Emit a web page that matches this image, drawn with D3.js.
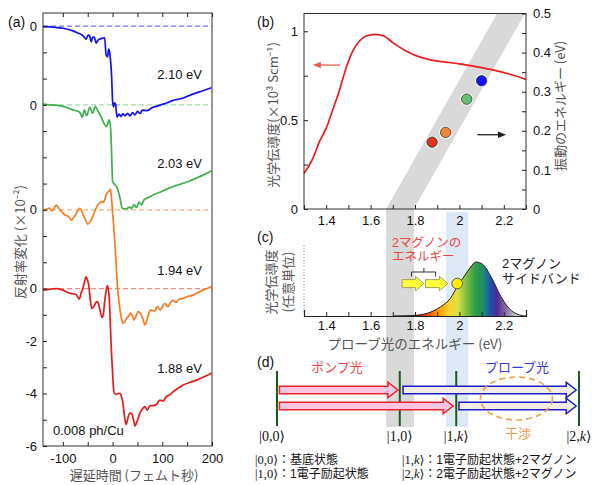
<!DOCTYPE html>
<html><head><meta charset="utf-8">
<script src="https://cdn.jsdelivr.net/npm/d3@7/dist/d3.min.js"></script>
<style>
html,body{margin:0;padding:0;background:#fff;}
svg{display:block;}
</style></head>
<body>
<svg id="chart" width="600" height="485" viewBox="0 0 600 485"></svg>
<script>
// ================= DATA =================
// Panel (a): delay-time traces (fs, ΔR relative to own baseline, x10^-2)
const delayTicks = [-100, -50, 0, 50, 100, 150, 200];
const delayTickLabels = [-100, 0, 100, 200];
const reflTicks = [-6,-5,-4,-3,-2,-1,0,1,2,3,4,5,6,7,8,9,10];
const reflLabelValues = [-6, -4, -2, 0, 3, 7, 10];
const reflLabelTexts = ["-6", "-4", "-2", "0", "0", "0", "0"];
const traceLabels = ["2.10 eV", "2.03 eV", "1.94 eV", "1.88 eV"];
const traceOffsets = [10, 7, 3, 0];

const trace210 = [[-140,-0.02],[-125,-0.03],[-110,-0.06],[-100,-0.08],[-90,-0.12],[-80,-0.18],[-70,-0.26],[-62,-0.33],[-57,-0.42],[-53,-0.5],[-50,-0.36],[-47,-0.34],[-43,-0.6],[-40,-0.42],[-37,-0.42],[-33,-0.65],[-30,-0.55],[-27,-0.5],[-22,-0.47],[-16,-0.45],[-13,-1.1],[-10,-1.17],[-8,-0.88],[-6,-1.0],[-4.5,-1.23],[-2,-1.9],[0,-2.85],[2,-3.08],[4,-2.92],[6,-2.98],[9,-3.47],[13,-3.35],[17,-3.44],[21,-3.33],[25,-3.42],[30,-3.32],[35,-3.42],[40,-3.3],[45,-3.38],[50,-3.25],[55,-3.33],[60,-3.2],[70,-3.22],[80,-3.1],[90,-3.05],[100,-2.98],[110,-2.92],[120,-2.84],[141,-2.75],[160,-2.6],[180,-2.47],[199,-2.35]];
const trace203 = [[-140,0.03],[-125,0.0],[-106,-0.03],[-92,-0.1],[-80,-0.19],[-66,-0.28],[-61,-0.48],[-57,-0.19],[-52,-0.41],[-46,-0.1],[-40,-0.32],[-35,-0.06],[-29,-0.25],[-24,-0.42],[-19,-0.64],[-12,-0.83],[-7,-0.57],[-4,-0.89],[-2,-1.8],[0,-2.92],[5,-3.05],[9.5,-3.17],[15,-3.56],[19.5,-3.94],[28,-3.96],[34,-3.9],[38,-3.94],[43,-3.81],[48.5,-3.91],[53,-3.71],[58.5,-3.81],[63,-3.62],[68.5,-3.56],[75,-3.5],[82,-3.43],[95,-3.33],[108,-3.22],[122,-3.11],[140,-3.0],[155,-2.9],[170,-2.78],[185,-2.65],[199,-2.52]];
const trace194 = [[-140,-0.01],[-133,0.02],[-128,0.07],[-122,-0.04],[-118,0.05],[-113,0.18],[-108,0.05],[-102,-0.08],[-96,-0.2],[-89,-0.25],[-83,-0.39],[-78,-0.28],[-73,-0.13],[-66,0.06],[-62,-0.05],[-59,-0.2],[-55,-0.35],[-50,-0.55],[-45,-0.45],[-40,-0.26],[-35,-0.02],[-30,0.18],[-26,0.26],[-23,0.31],[-19,0.28],[-16,0.37],[-13,0.56],[-9,0.69],[-6,0.72],[-4,0.79],[-2,0.4],[0,-0.1],[2.5,-0.7],[5,-1.4],[7.5,-2.2],[10,-2.95],[12.5,-3.45],[15,-3.82],[18,-4.15],[21.5,-4.33],[25,-4.25],[28,-4.12],[31.5,-4.07],[36,-3.94],[40,-4.05],[43,-4.2],[47,-4.05],[51.5,-3.88],[56,-3.95],[61,-4.15],[65,-4.39],[70,-4.14],[76,-3.82],[81,-3.84],[85,-3.86],[89.6,-3.69],[96,-3.82],[100,-3.7],[105,-3.56],[111,-3.69],[116,-3.55],[122,-3.44],[127,-3.53],[133,-3.42],[142,-3.37],[152,-3.3],[162,-3.25],[172,-3.15],[182,-3.06],[190,-3.0],[199,-2.93]];
const trace188 = [[-140,-0.06],[-126,-0.02],[-113,0.0],[-100,-0.06],[-86,-0.18],[-74,-0.22],[-67,-0.4],[-63,-0.15],[-60,0.0],[-56,0.3],[-53.5,0.45],[-51,0.35],[-48,0.13],[-45,-0.4],[-42,-0.76],[-38.5,-0.7],[-35.4,-0.6],[-33,-0.52],[-30.8,-0.5],[-28,-0.6],[-25.4,-0.82],[-20.7,-1.11],[-18,-0.9],[-16,-0.5],[-13,-0.1],[-10.7,0.11],[-8.5,-0.05],[-6.7,-0.37],[-5,-1.1],[-3.2,-2.03],[-1.5,-2.7],[0.2,-3.3],[1.5,-3.7],[2.8,-3.96],[5.5,-4.02],[8.2,-4.03],[11,-4.0],[15,-3.99],[17.5,-4.1],[20.3,-4.31],[23.5,-4.8],[27,-5.18],[29.5,-5.05],[31.6,-4.88],[35,-4.75],[38.4,-4.76],[42,-5.0],[45,-5.23],[48,-5.12],[51.7,-4.92],[55,-4.75],[58.5,-4.63],[65,-4.5],[70,-4.63],[75,-4.46],[82,-4.46],[88.5,-4.41],[95,-4.25],[101.6,-4.29],[108,-4.12],[115,-4.05],[122,-3.93],[132,-3.8],[142,-3.68],[155,-3.58],[169,-3.49],[184,-3.36],[199,-3.23]];

// Panel (b): optical conductivity spectrum and oscillation energies
const condEnergy = [1.30,1.34,1.37,1.40,1.43,1.46,1.49,1.52,1.55,1.58,1.62,1.66,1.70,1.76,1.81,1.86,1.92,2.00,2.08,2.16,2.22,2.30];
const condValue  = [0.20,0.285,0.38,0.455,0.56,0.67,0.795,0.89,0.945,0.973,0.983,0.973,0.936,0.889,0.86,0.842,0.829,0.817,0.80,0.78,0.761,0.729];
const probeEnergy = [1.877, 1.938, 2.033, 2.10];
const oscEnergy   = [0.171, 0.196, 0.281, 0.328];
const dotColors   = ["#e2311f", "#f28636", "#67c070", "#1414f0"];
const twoMagnonBand = [1.67, 1.795];     // probe energy where oscillation energy -> 0
const sidebandWindow = [1.94, 2.04];
const energyTicks = [1.3,1.4,1.5,1.6,1.7,1.8,1.9,2.0,2.1,2.2,2.3];
const energyLabelValues = [1.4, 1.6, 1.8, 2.0, 2.2];
const energyLabelTexts = ["1.4", "1.6", "1.8", "2", "2.2"];
const condTicks = [0, 0.25, 0.5, 0.75, 1.0];
const condLabelValues = [0, 0.5, 1.0];
const condLabelTexts = ["0", "0.5", "1"];
const oscTicks = [0,0.05,0.1,0.15,0.2,0.25,0.3,0.35,0.4,0.45,0.5];
const oscLabelValues = [0,0.1,0.2,0.3,0.4,0.5];
const oscLabelTexts = ["0","0.1","0.2","0.3","0.4","0.5"];

// Panel (c): sideband spectrum (arb. units)
const specEnergy = [1.70,1.75,1.80,1.855,1.915,1.96,1.99,2.021,2.051,2.074,2.104,2.142,2.187,2.224,2.27,2.30];
const specValue  = [0,0.003,0.012,0.05,0.17,0.33,0.54,0.73,0.91,1.0,0.96,0.73,0.36,0.14,0.02,0.0];
const magnonArrows = [[1.742, 1.840], [1.847, 1.948]];
const sidebandPoint = [1.99, 0.6];
const rainbowStops = [[1.80,"#c00000"],[1.85,"#f04000"],[1.90,"#ff9000"],[1.95,"#f8d030"],[1.99,"#e0e040"],[2.03,"#80c040"],[2.07,"#30a048"],[2.11,"#208870"],[2.14,"#2050b0"],[2.17,"#502890"],[2.21,"#8a70a0"],[2.25,"#c0c0c8"],[2.29,"#e0e0e0"]];

// Panel (d): level scheme
const levelPos = [0, 1, 1.46, 2.46];
const levelNames = [["0","0"],["1","0"],["1","k"],["2","k"]];
const pumpArrows = [[0.02, 0.985], [0.02, 1.435]];
const probeArrows = [[1.027, 2.437], [1.482, 2.437]];
const legendLeft = [[["0","0"], "：基底状態"], [["1","0"], "：1電子励起状態"]];
const legendRight = [[["1","k"], "：1電子励起状態+2マグノン"], [["2","k"], "：2電子励起状態+2マグノン"]];

// ================= DRAWING =================
const LAT = '"Liberation Sans", Arial, Helvetica, sans-serif';
const JP = '"Noto Sans CJK JP", "Noto Sans", sans-serif';
const LATJP = '"Liberation Sans", "Noto Sans CJK JP", sans-serif';
const MATH = '"Liberation Serif", "DejaVu Serif", "Noto Sans CJK JP", serif';
const svg = d3.select("#chart");

const xA = d3.scaleLinear([-140, 200], [43, 212]);
const yA = d3.scaleLinear([-6, 10.5], [446, 13]);
const xE = d3.scaleLinear([1.3, 2.3], [304, 526]);
const yBL = d3.scaleLinear([0, 1.1], [209, 13.5]);
const yBR = d3.scaleLinear([0, 0.5], [209, 13.5]);
const yC = d3.scaleLinear([0, 1], [316, 262]);
const xD = d3.scaleLinear([0, 2.46], [277, 579]);

const near = (a, b) => Math.abs(a - b) < 1e-6;
function labeler(vals, texts) { return d => { const k = vals.findIndex(v => near(v, d)); return k >= 0 ? texts[k] : ""; }; }
function styleAxis(g, size) {
  g.attr("font-family", LAT).attr("font-size", size);
  g.selectAll("line").attr("stroke", "#222");
  g.selectAll("path").attr("stroke", "#222");
  g.selectAll("text").attr("fill", "#111");
}
function blockArrow(x0, x1, yc, bh, hh, hl) {
  const xb = x1 - hl;
  return `M${x0},${yc - bh / 2}H${xb}V${yc - hh / 2}L${x1},${yc}L${xb},${yc + hh / 2}V${yc + bh / 2}H${x0}Z`;
}
function jpText(g, x, y, str, size, color, anchor, rotate) {
  const t = g.append("text").attr("font-family", JP).attr("font-size", size).attr("fill", color)
    .attr("text-anchor", anchor || "start").text(str);
  if (rotate) t.attr("transform", `translate(${x},${y}) rotate(${rotate})`).attr("dominant-baseline", "central");
  else t.attr("x", x).attr("y", y);
  return t;
}
function jpLine(g, x, y, str, size, color) {
  return g.append("text").attr("x", x).attr("y", y).attr("font-family", LATJP).attr("font-size", size).attr("fill", color).text(str);
}

// ---- background bands ----
const bandBottom = 427, blueTop = 212;
const gBand = svg.append("g");
const bL = twoMagnonBand[0], bR = twoMagnonBand[1];
gBand.append("path")
  .attr("d", `M${xE(bL)},${bandBottom}L${xE(bL)},${yBR(0)}L${xE(bL + 0.5)},${yBR(0.5)}L${xE(bR + 0.5)},${yBR(0.5)}L${xE(bR)},${yBR(0)}L${xE(bR)},${bandBottom}Z`)
  .attr("fill", "#d9d9d9");
gBand.append("rect").attr("x", xE(sidebandWindow[0])).attr("y", blueTop)
  .attr("width", xE(sidebandWindow[1]) - xE(sidebandWindow[0])).attr("height", bandBottom - blueTop)
  .attr("fill", "#dde9f6");

// ---- Panel (a) ----
const traceColors = ["#1212f2", "#3cb04a", "#f57c20", "#e51b1b"];
const zeroColors = ["#7373ff", "#a3dca6", "#f9b27e", "#f28a8a"];
const gA = svg.append("g");
traceOffsets.forEach((o, i) => {
  gA.append("line").attr("x1", xA(-140)).attr("x2", xA(200)).attr("y1", yA(o)).attr("y2", yA(o))
    .attr("stroke", zeroColors[i]).attr("stroke-width", 1.2).attr("stroke-dasharray", "5,3");
});
const traces = [trace210, trace203, trace194, trace188];
const lineA = d3.line().x(d => xA(d[0])).y(d => yA(d[1])).curve(d3.curveMonotoneX);
traces.forEach((tr, i) => {
  gA.append("path").datum(tr.map(d => [d[0], d[1] + traceOffsets[i]])).attr("d", lineA)
    .attr("fill", "none").attr("stroke", traceColors[i]).attr("stroke-width", 1.7).attr("stroke-linejoin", "round");
});
gA.append("rect").attr("x", xA(-140)).attr("y", yA(10.5)).attr("width", xA(200) - xA(-140)).attr("height", yA(-6) - yA(10.5))
  .attr("fill", "none").attr("stroke", "#333");
const axAL = gA.append("g").attr("transform", `translate(${xA(-140)},0)`)
  .call(d3.axisLeft(yA).tickValues(reflTicks).tickSizeInner(-4).tickSizeOuter(0).tickPadding(6).tickFormat(labeler(reflLabelValues, reflLabelTexts)));
axAL.select(".domain").remove(); styleAxis(axAL, 13);
const axAB = gA.append("g").attr("transform", `translate(0,${yA(-6)})`)
  .call(d3.axisBottom(xA).tickValues(delayTicks).tickSizeInner(-4).tickSizeOuter(0).tickPadding(8).tickFormat(d => delayTickLabels.includes(d) ? String(d) : ""));
axAB.select(".domain").remove(); styleAxis(axAB, 13);
const axAT = gA.append("g").attr("transform", `translate(0,${yA(10.5)})`)
  .call(d3.axisTop(xA).tickValues(delayTicks).tickSizeInner(-4).tickSizeOuter(0).tickFormat(""));
axAT.select(".domain").remove(); styleAxis(axAT, 13);
const labelY = [yA(8.0), yA(4.6), yA(0.5), yA(-3.2)];
traceLabels.forEach((s, i) => {
  gA.append("text").attr("x", 202).attr("y", labelY[i]).attr("text-anchor", "end")
    .attr("font-family", LAT).attr("font-size", 13).attr("fill", "#111").text(s);
});
gA.append("text").attr("x", 53).attr("y", 435).attr("font-family", LAT).attr("font-size", 13).attr("fill", "#111").text("0.008 ph/Cu");
gA.append("text").attr("x", 8).attr("y", 27).attr("font-family", LAT).attr("font-size", 14).attr("fill", "#111").text("(a)");
jpText(gA, 134, 480, "遅延時間 (フェムト秒)", 13, "#555", "middle");
jpText(gA, 19, 242, "反射率変化 (×10⁻²)", 13, "#555", "middle", -90);

// ---- Panel (b) ----
const gB = svg.append("g");
const lineB = d3.line().x((d, i) => xE(condEnergy[i])).y(d => yBL(d)).curve(d3.curveMonotoneX);
gB.append("path").datum(condValue).attr("d", lineB).attr("fill", "none").attr("stroke", "#ee1b1b").attr("stroke-width", 1.7);
probeEnergy.forEach((e, i) => {
  gB.append("circle").attr("cx", xE(e)).attr("cy", yBR(oscEnergy[i])).attr("r", 6.4).attr("fill", "#fff");
  gB.append("circle").attr("cx", xE(e)).attr("cy", yBR(oscEnergy[i])).attr("r", 5.2).attr("fill", dotColors[i]).attr("stroke", "#333").attr("stroke-width", 0.8);
});
gB.append("rect").attr("x", xE(1.3)).attr("y", yBL(1.1)).attr("width", xE(2.3) - xE(1.3)).attr("height", yBL(0) - yBL(1.1))
  .attr("fill", "none").attr("stroke", "#333");
const axBL = gB.append("g").attr("transform", `translate(${xE(1.3)},0)`)
  .call(d3.axisLeft(yBL).tickValues(condTicks).tickSizeInner(-4).tickSizeOuter(0).tickPadding(6).tickFormat(labeler(condLabelValues, condLabelTexts)));
axBL.select(".domain").remove(); styleAxis(axBL, 13);
const axBR = gB.append("g").attr("transform", `translate(${xE(2.3)},0)`)
  .call(d3.axisRight(yBR).tickValues(oscTicks).tickSizeInner(-4).tickSizeOuter(0).tickPadding(7).tickFormat(labeler(oscLabelValues, oscLabelTexts)));
axBR.select(".domain").remove(); styleAxis(axBR, 13);
const axBB = gB.append("g").attr("transform", `translate(0,${yBL(0)})`)
  .call(d3.axisBottom(xE).tickValues(energyTicks).tickSizeInner(-4).tickSizeOuter(0).tickPadding(7).tickFormat(labeler(energyLabelValues, energyLabelTexts)));
axBB.select(".domain").remove(); styleAxis(axBB, 13);
function lineArrow(g, x0, x1, y, color) {
  const dir = Math.sign(x1 - x0);
  g.append("line").attr("x1", x0).attr("x2", x1 - dir * 6).attr("y1", y).attr("y2", y).attr("stroke", color).attr("stroke-width", 1.3);
  g.append("path").attr("d", `M${x1},${y}L${x1 - dir * 8},${y - 3.2}L${x1 - dir * 8},${y + 3.2}Z`).attr("fill", color);
}
lineArrow(gB, xE(1.463), xE(1.34), yBL(0.81), "#f25a5a");
lineArrow(gB, xE(2.081), xE(2.21), yBR(0.19), "#222");
gB.append("text").attr("x", 257).attr("y", 27).attr("font-family", LAT).attr("font-size", 14).attr("fill", "#111").text("(b)");
jpText(gB, 272, 115, "光学伝導度(×10³ Scm⁻¹)", 13, "#555", "middle", -90);
jpText(gB, 559, 106, "振動のエネルギー (eV)", 13, "#555", "middle", -90);

// ---- Panel (c) ----
const gC = svg.append("g");
const defs = svg.append("defs");
const grad = defs.append("linearGradient").attr("id", "rainbow").attr("gradientUnits", "userSpaceOnUse")
  .attr("x1", xE(rainbowStops[0][0])).attr("x2", xE(rainbowStops[rainbowStops.length - 1][0])).attr("y1", 0).attr("y2", 0);
const s0 = rainbowStops[0][0], s1 = rainbowStops[rainbowStops.length - 1][0];
rainbowStops.forEach(s => grad.append("stop").attr("offset", (s[0] - s0) / (s1 - s0)).attr("stop-color", s[1]));
const areaC = d3.area().x((d, i) => xE(specEnergy[i])).y0(yC(0)).y1(d => yC(d)).curve(d3.curveMonotoneX);
const lineC = d3.line().x((d, i) => xE(specEnergy[i])).y(d => yC(d)).curve(d3.curveMonotoneX);
gC.append("path").datum(specValue).attr("d", areaC).attr("fill", "url(#rainbow)");
gC.append("path").datum(specValue).attr("d", lineC).attr("fill", "none").attr("stroke", "#222").attr("stroke-width", 1);
gC.append("line").attr("x1", xE(1.3)).attr("x2", xE(1.3)).attr("y1", 245).attr("y2", 312)
  .attr("stroke", "#888").attr("stroke-width", 1).attr("stroke-dasharray", "1,2");
const axC = gC.append("g").attr("transform", `translate(0,${yC(0)})`)
  .call(d3.axisBottom(xE).tickValues(energyTicks).tickSizeInner(-4).tickSizeOuter(-6).tickPadding(5).tickFormat(labeler(energyLabelValues, energyLabelTexts)));
styleAxis(axC, 13); axC.select(".domain").attr("stroke-width", 1.2);
const arrowY = yC(sidebandPoint[1]);
magnonArrows.forEach(a => {
  gC.append("path").attr("d", blockArrow(xE(a[0]), xE(a[1]), arrowY, 8, 14.5, 8.5))
    .attr("fill", "#ffff3c").attr("stroke", "#a3a352").attr("stroke-width", 1);
});
gC.append("circle").attr("cx", xE(sidebandPoint[0])).attr("cy", yC(sidebandPoint[1])).attr("r", 5.3)
  .attr("fill", "#fff000").attr("stroke", "#555").attr("stroke-width", 1);
const brL = xE(1.784), brR = xE(1.893), brM = xE(1.84);
gC.append("path").attr("d", `M${brL},276.5V272H${brR}V276.5M${brM},272V268`).attr("fill", "none").attr("stroke", "#333").attr("stroke-width", 1);
gC.append("text").attr("x", 257).attr("y", 242).attr("font-family", LAT).attr("font-size", 14).attr("fill", "#111").text("(c)");
jpLine(gC, 392, 246.5, "2マグノンの", 12.5, "#ee4444");
jpLine(gC, 392, 261, "エネルギー", 12.5, "#ee4444");
jpLine(gC, 502, 267.5, "2マグノン", 13, "#222");
jpLine(gC, 502, 283, "サイドバンド", 13, "#222");
const ylC = gC.append("text").attr("transform", `translate(270,282) rotate(-90)`).attr("font-family", JP).attr("font-size", 13)
  .attr("fill", "#555").attr("text-anchor", "middle").attr("dominant-baseline", "central");
ylC.append("tspan").attr("x", 0).attr("dy", 0).text("光学伝導度");
ylC.append("tspan").attr("x", 0).attr("dy", 17).text("(任意単位)");
jpText(gC, 415, 349, "プローブ光のエネルギー (eV)", 13.5, "#555", "middle");

// ---- Panel (d) ----
const gD = svg.append("g");
levelPos.forEach(p => {
  gD.append("line").attr("x1", xD(p)).attr("x2", xD(p)).attr("y1", 371).attr("y2", 426).attr("stroke", "#1e5a1e").attr("stroke-width", 2);
});
const rowY = [390, 406];
pumpArrows.forEach((a, i) => {
  gD.append("path").attr("d", blockArrow(xD(a[0]), xD(a[1]), rowY[i], 7.5, 15.5, 10))
    .attr("fill", "#f7c4e2").attr("stroke", "#e8242c").attr("stroke-width", 1.5);
});
probeArrows.forEach((a, i) => {
  gD.append("path").attr("d", blockArrow(xD(a[0]), xD(a[1]), rowY[i], 7.5, 15.5, 10))
    .attr("fill", "#f1ede2").attr("stroke", "#1c1cc8").attr("stroke-width", 1.5);
});
gD.append("ellipse").attr("cx", xD(1.95)).attr("cy", 398.5).attr("rx", 36).attr("ry", 21.5)
  .attr("fill", "none").attr("stroke", "#f0a040").attr("stroke-width", 1.6).attr("stroke-dasharray", "6,4");
function appendKet(t, name) {
  t.append("tspan").text("|" + name[0] + ",");
  t.append("tspan").attr("font-style", name[1] === "k" ? "italic" : "normal").text(name[1]);
  t.append("tspan").attr("font-style", "normal").text("⟩");
}
levelPos.forEach((p, i) => {
  const t = gD.append("text").attr("x", xD(p) - (i === 0 ? 5 : 0)).attr("y", 441).attr("font-family", MATH).attr("font-size", 14)
    .attr("fill", "#111").attr("text-anchor", "middle");
  appendKet(t, levelNames[i]);
});
jpText(gD, 337, 372, "ポンプ光", 13, "#f04545", "middle");
jpText(gD, 517, 372, "プローブ光", 13, "#3838d8", "middle");
jpText(gD, 518, 438, "干渉", 13, "#f0a050", "middle");
gD.append("text").attr("x", 257).attr("y", 367).attr("font-family", LAT).attr("font-size", 14).attr("fill", "#111").text("(d)");
function legendRow(x, y, r) {
  const t = gD.append("text").attr("x", x).attr("y", y).attr("font-family", MATH).attr("font-size", 12.5).attr("fill", "#111");
  appendKet(t, r[0]);
  t.append("tspan").attr("font-style", "normal").attr("font-family", '"Liberation Sans", "Noto Sans CJK JP", sans-serif').attr("font-size", 12).text(r[1]);
}
legendLeft.forEach((r, i) => legendRow(255, 463.5 + i * 14, r));
legendRight.forEach((r, i) => legendRow(402, 463.5 + i * 14, r));
</script>
</body></html>
